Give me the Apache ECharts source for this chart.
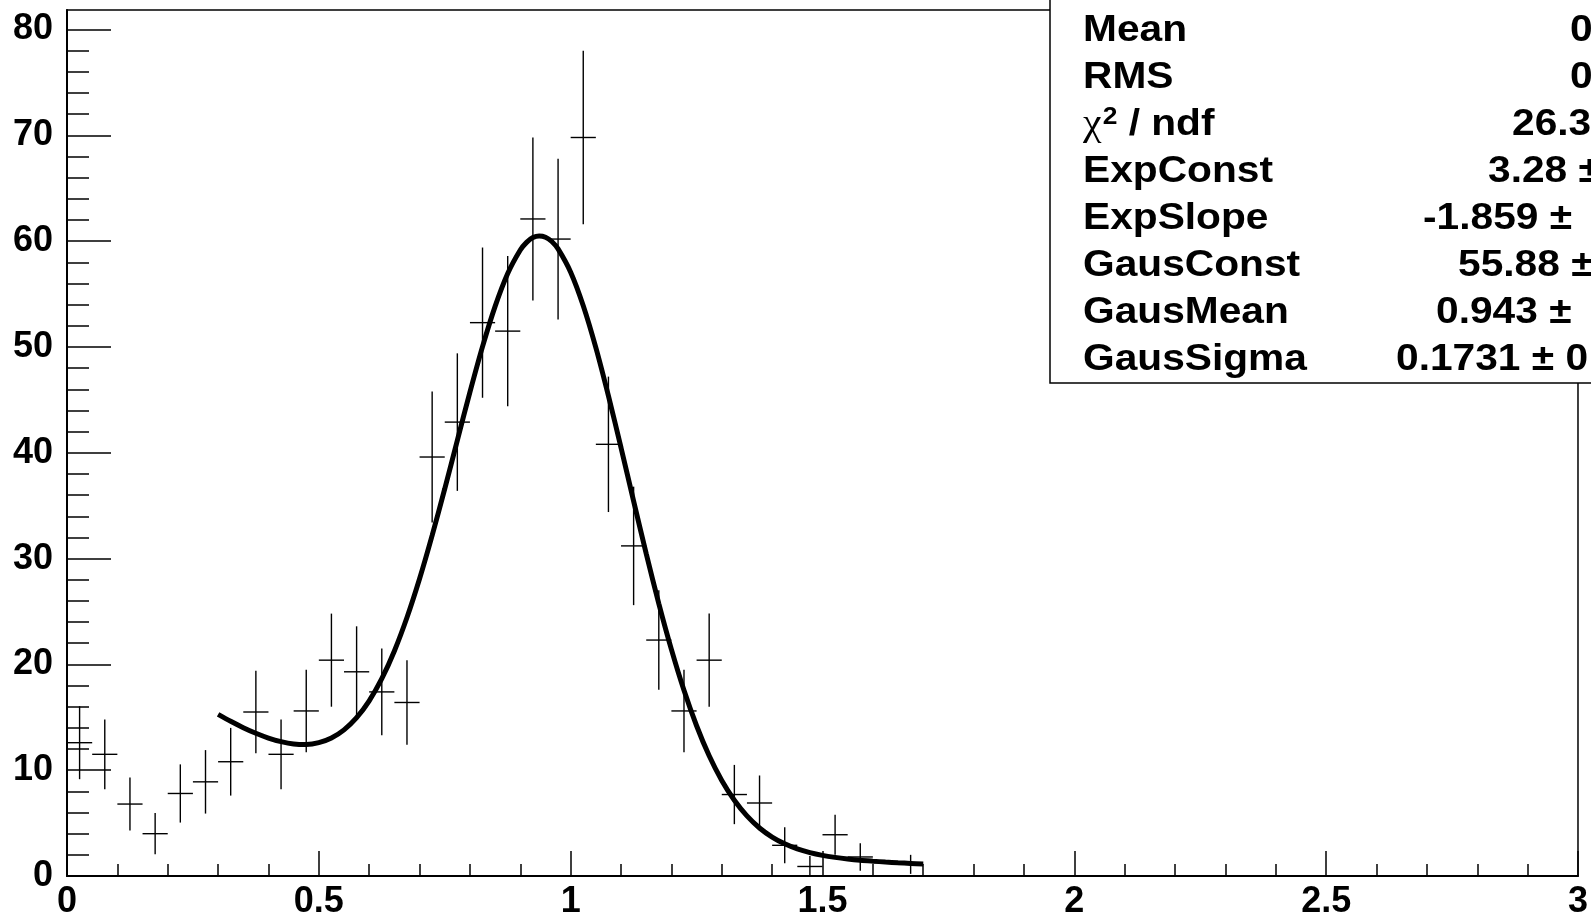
<!DOCTYPE html>
<html><head><meta charset="utf-8">
<script src="https://cdn.jsdelivr.net/npm/echarts@6/dist/echarts.min.js"></script>
<style>html,body{margin:0;padding:0;background:#fff}#c{width:1591px;height:920px}</style>
</head><body><div id="c"></div>
<script>
// Histogram bins (bin width 0.05)
const binWidth = 0.05;
const binCenters = [0.025,0.075,0.125,0.175,0.225,0.275,0.325,0.375,0.425,0.475,
  0.525,0.575,0.625,0.675,0.725,0.775,0.825,0.875,0.925,0.975,
  1.025,1.075,1.125,1.175,1.225,1.275,1.325,1.375,1.425,1.475,
  1.525,1.575,1.675];
const binValues = [12.6,11.5,6.8,4.0,7.8,8.9,10.8,15.5,11.5,15.6,
  20.4,19.3,17.4,16.4,39.6,42.9,52.3,51.5,62.1,60.2,
  69.8,40.8,31.2,22.3,15.6,20.4,7.7,6.9,2.9,0.9,
  3.9,1.8,1.1];
const binErrors = [3.45,3.3,2.5,1.95,2.75,3.0,3.2,3.9,3.3,3.9,
  4.4,4.3,4.1,4.0,6.2,6.5,7.1,7.1,7.7,7.6,
  8.2,6.4,5.6,4.7,3.9,4.4,2.8,2.6,1.7,1.0,
  1.9,1.3,0.9];
// Fit curve (expo + gaus) sampled values
const fitX = [0.300,0.325,0.350,0.375,0.400,0.425,0.450,0.475,0.500,0.525,
  0.550,0.575,0.600,0.625,0.650,0.675,0.700,0.725,0.750,0.775,
  0.800,0.825,0.850,0.875,0.900,0.9125,0.925,0.9375,0.950,0.9625,0.975,1.000,1.025,
  1.050,1.075,1.100,1.125,1.150,1.175,1.200,1.225,1.250,1.275,
  1.300,1.325,1.350,1.375,1.400,1.425,1.450,1.475,1.500,1.525,
  1.550,1.575,1.600,1.625,1.650,1.675,1.700];
const fitY = [15.27,14.62,14.02,13.49,13.04,12.70,12.48,12.43,12.60,13.04,
  13.81,14.96,16.56,18.65,21.27,24.43,28.09,32.19,36.60,41.18,
  45.73,50.03,53.84,56.95,59.17,59.89,60.34,60.50,60.38,59.97,59.27,57.07,53.90,
  49.94,45.38,40.48,35.43,30.47,25.75,21.42,17.55,14.20,11.36,
  9.03,7.16,5.68,4.54,3.68,3.04,2.56,2.21,1.95,1.76,
  1.61,1.49,1.40,1.32,1.25,1.19,1.13];
// Axis tick labels
const xTickLabels = ['0','0.5','1','1.5','2','2.5','3'];
const yTickLabels = ['0','10','20','30','40','50','60','70','80'];
// Stats box
const statNames = ['Mean','RMS','CHI','ExpConst','ExpSlope','GausConst','GausMean','GausSigma'];
const statValues = ['0','0','26.3','3.28 \u00b1','-1.859 \u00b1','55.88 \u00b1','0.943 \u00b1','0.1731 \u00b1 0'];
const statValueX = [1570,1570,1512,1488,1423,1458,1436,1396];

const yMax = 81.85;
const yMajor = yTickLabels.map(Number);
const yMinor = [];
for (let v = 2; v < 80; v += 2) if (v % 10 !== 0) yMinor.push(v);

const FONT = 'Liberation Sans';
const chart = echarts.init(document.getElementById('c'), null, {renderer:'canvas'});

const graphics = [{
  type:'rect', z:100, shape:{x:1050, y:-3, width:700, height:386},
  style:{fill:'#fff', stroke:'#000', lineWidth:1.5}
}];
statNames.forEach((n,i)=>{
  const y = 30.5 + 47.1*i;
  if (n === 'CHI') {
    graphics.push({type:'text', z:101, x:1083, y:y, scaleX:1.1,
      style:{text:'{c|\u03c7}{s|2}{b| / ndf}', verticalAlign:'middle', align:'left',
        rich:{c:{fontFamily:'Liberation Serif', fontSize:38, fill:'#000'},
              s:{fontFamily:FONT, fontSize:24, fontWeight:'bold', fill:'#000', verticalAlign:'top', padding:[0,0,14,1]},
              b:{fontFamily:FONT, fontSize:37, fontWeight:'bold', fill:'#000'}}}});
  } else {
    graphics.push({type:'text', z:101, x:1083, y:y, scaleX:1.1,
      style:{text:n, fontFamily:FONT, fontSize:37, fontWeight:'bold', fill:'#000', verticalAlign:'middle', align:'left'}});
  }
  graphics.push({type:'text', z:101, x:statValueX[i], y:y, scaleX:1.1,
    style:{text:statValues[i], fontFamily:FONT, fontSize:37, fontWeight:'bold', fill:'#000', verticalAlign:'middle', align:'left'}});
});

const lblStyle = {fontFamily:FONT, fontSize:36, fontWeight:'bold', color:'#000'};
const option = {
  animation:false,
  backgroundColor:'#fff',
  grid:{left:67, right:12, top:10, bottom:42.5, show:true, borderColor:'#000', borderWidth:1.5, backgroundColor:'transparent'},
  xAxis:[{
    type:'value', min:0, max:3, interval:0.5, position:'bottom',
    axisLine:{show:true, onZero:false, lineStyle:{color:'#000', width:2}},
    axisTick:{show:true, inside:true, length:25, lineStyle:{color:'#000', width:1.5}},
    minorTick:{show:true, splitNumber:5, length:12, lineStyle:{color:'#000', width:1.5}},
    splitLine:{show:false}, minorSplitLine:{show:false},
    axisLabel:Object.assign({margin:8, formatter:(v)=>{const k=Math.round(v/0.5); return Math.abs(v-k*0.5)<1e-9 ? xTickLabels[k] : '';}}, lblStyle)
  }],
  yAxis:[{
    type:'value', min:0, max:yMax, position:'left',
    axisLine:{show:true, onZero:false, lineStyle:{color:'#000', width:2}},
    axisTick:{show:true, inside:true, length:44, customValues:yMajor, lineStyle:{color:'#000', width:1.5}},
    splitLine:{show:false},
    axisLabel:Object.assign({margin:14, padding:[6,0,0,0], customValues:yMajor, formatter:(v)=>yTickLabels[Math.round(v/10)]}, lblStyle)
  },{
    type:'value', min:0, max:yMax, position:'left',
    axisLine:{show:false},
    axisTick:{show:true, inside:true, length:22, customValues:yMinor, lineStyle:{color:'#000', width:1.5}},
    splitLine:{show:false},
    axisLabel:{show:false}
  }],
  graphic:graphics,
  series:[{
    type:'custom', xAxisIndex:0, yAxisIndex:0, z:3,
    data:binCenters.map((x,i)=>[x, binValues[i], binErrors[i]]),
    renderItem:(params, api)=>{
      const x = api.value(0), y = api.value(1), e = api.value(2);
      const c = api.coord([x, y]);
      const l = api.coord([x - binWidth/2, y]);
      const r = api.coord([x + binWidth/2, y]);
      const t = api.coord([x, y + e]);
      const b = api.coord([x, Math.max(0, y - e)]);
      const st = {stroke:'#000', lineWidth:1.4};
      return {type:'group', children:[
        {type:'line', shape:{x1:l[0], y1:c[1], x2:r[0], y2:c[1]}, style:st},
        {type:'line', shape:{x1:c[0], y1:t[1], x2:c[0], y2:b[1]}, style:st}
      ]};
    }
  },{
    type:'line', xAxisIndex:0, yAxisIndex:0, z:4,
    data:fitX.map((x,i)=>[x, fitY[i]]),
    smooth:0.3, showSymbol:false, symbol:'none',
    lineStyle:{color:'#000', width:5}
  }]
};
chart.setOption(option);
</script>
</body></html>
